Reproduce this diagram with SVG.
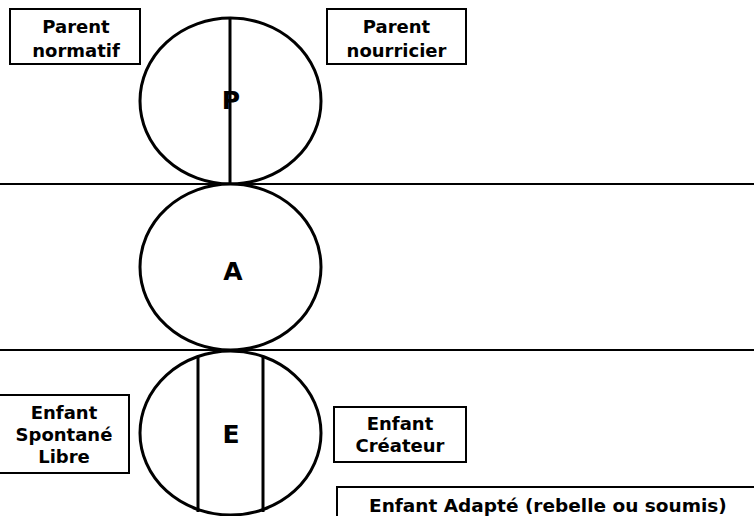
<svg xmlns="http://www.w3.org/2000/svg" width="754" height="516" viewBox="0 0 754 516">
<style>
.box{fill:#fff;stroke:#000;stroke-width:2}
.circ{fill:#fff;stroke:#000;stroke-width:3}
.div{stroke:#000;stroke-width:3}
.hl{stroke:#000;stroke-width:2}
.t{font-family:"DejaVu Sans",Verdana,sans-serif;font-weight:bold;font-size:18px;text-anchor:middle;fill:#000}
.big{font-family:"DejaVu Sans",Verdana,sans-serif;font-weight:bold;font-size:25px;text-anchor:middle;fill:#000}
</style>
<rect width="754" height="516" fill="#fff"/>
<g id="connectors">
<line class="hl" x1="0" y1="184" x2="754" y2="184"/>
<line class="hl" x1="0" y1="350" x2="754" y2="350"/>
</g>
<g id="circleP">
<ellipse class="circ" cx="230.5" cy="101" rx="90.5" ry="83"/>
<text class="big" x="231" y="109">P</text>
<line class="div" x1="230" y1="18" x2="230" y2="184"/>
</g>
<g id="circleA">
<ellipse class="circ" cx="230.5" cy="267" rx="90.5" ry="83"/>
<text class="big" x="233" y="280">A</text>
</g>
<g id="circleE">
<ellipse class="circ" cx="230.5" cy="433" rx="90.5" ry="82"/>
<line class="div" x1="198" y1="356" x2="198" y2="512"/>
<line class="div" x1="263" y1="356" x2="263" y2="512"/>
<text class="big" x="231" y="443">E</text>
</g>
<g id="parentNormatif">
<rect class="box" x="10" y="9" width="130" height="55"/>
<text class="t" x="76" y="33">Parent</text>
<text class="t" x="76" y="57">normatif</text>
</g>
<g id="parentNourricier">
<rect class="box" x="327" y="9" width="139" height="55"/>
<text class="t" x="396.5" y="33">Parent</text>
<text class="t" x="396.5" y="57">nourricier</text>
</g>
<g id="enfantSpontane">
<rect class="box" x="-2" y="395" width="131" height="78"/>
<text class="t" x="64" y="419">Enfant</text>
<text class="t" x="64" y="441">Spontané</text>
<text class="t" x="64" y="463">Libre</text>
</g>
<g id="enfantCreateur">
<rect class="box" x="334" y="407" width="132" height="55"/>
<text class="t" x="400" y="430">Enfant</text>
<text class="t" x="400" y="452">Créateur</text>
</g>
<g id="enfantAdapte">
<rect class="box" x="337" y="487" width="430" height="40"/>
<text class="t" x="369" y="512" style="text-anchor:start;font-size:18.5px">Enfant Adapté (rebelle ou soumis)</text>
</g>
</svg>
